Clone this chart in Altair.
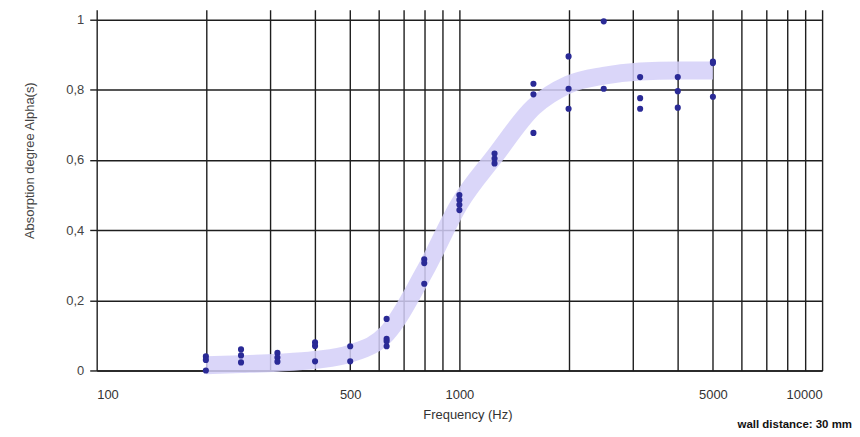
import altair as alt
import pandas as pd

# Measured points (third-octave frequencies)
pt_freq = [200, 200, 200,
           250, 250, 250,
           315, 315, 315,
           400, 400, 400,
           500, 500,
           630, 630, 630, 630,
           800, 800, 800,
           1000, 1000, 1000, 1000,
           1250, 1250, 1250,
           1600, 1600, 1600,
           2000, 2000, 2000,
           2500, 2500,
           3150, 3150, 3150,
           4000, 4000, 4000,
           5000, 5000, 5000]
pt_alpha = [0.04, 0.03, 0.0,
            0.06, 0.043, 0.023,
            0.05, 0.037, 0.025,
            0.08, 0.07, 0.026,
            0.069, 0.026,
            0.147, 0.09, 0.083, 0.069,
            0.317, 0.306, 0.247,
            0.5, 0.486, 0.472, 0.457,
            0.618, 0.604, 0.59,
            0.817, 0.787, 0.677,
            0.895, 0.803, 0.746,
            0.995, 0.803,
            0.836, 0.776, 0.746,
            0.836, 0.796, 0.749,
            0.88, 0.876, 0.78]

# Trend band (centre line)
band_freq = [200, 250, 315, 400, 500, 630, 800, 1000, 1250, 1600, 2000, 2500, 3150, 4000, 5000]
band_alpha = [0.015, 0.018, 0.022, 0.03, 0.048, 0.105, 0.28, 0.475, 0.61, 0.75, 0.815, 0.84, 0.852, 0.855, 0.855]

grid_freq = [100, 200, 300, 400, 500, 600, 700, 800, 900,
             1000, 2000, 3000, 4000, 5000, 6000, 7000, 8000, 9000, 10000]
label_freq = [100, 500, 1000, 5000, 10000]
y_ticks = [0, 0.2, 0.4, 0.6, 0.8, 1]

pts = pd.DataFrame({"f": pt_freq, "a": pt_alpha})
band = pd.DataFrame({"f": band_freq, "a": band_alpha})
note = pd.DataFrame({"t": ["wall distance: 30 mm"]})

xscale = alt.Scale(type="log", domain=[100, 10000])
yscale = alt.Scale(domain=[0, 1.028], nice=False)

label_test = "indexof([" + ",".join(str(v) for v in label_freq) + "], datum.value) >= 0 ? datum.value : ''"

xaxis = alt.Axis(values=grid_freq, labelExpr=label_test, ticks=False, labelPadding=18,
                 grid=True, gridColor="#1e1e1e", gridWidth=1.4, gridOpacity=1,
                 domainColor="#1e1e1e", domainWidth=1.4,
                 labelFont="Liberation Sans", labelFontSize=13, labelColor="#333",
                 title="Frequency (Hz)", titleFont="Liberation Sans", titleFontSize=13,
                 titleFontWeight="normal", titleColor="#333", titlePadding=7, titleX=372)
yaxis = alt.Axis(values=y_ticks, labelExpr="replace(format(datum.value, '~g'), '.', ',')",
                 tickSize=7, tickColor="#1e1e1e", tickWidth=1.4, labelPadding=6,
                 grid=True, gridColor="#1e1e1e", gridWidth=1.4, gridOpacity=1,
                 domain=False,
                 labelFont="Liberation Sans", labelFontSize=13, labelColor="#444",
                 title="Absorption degree Alpha(s)", titleFont="Liberation Sans", titleFontSize=13,
                 titleFontWeight="normal", titleColor="#444", titleX=-60, titleY=151)

band_layer = alt.Chart(band).mark_line(
    interpolate="monotone", strokeWidth=18, color="#d4cff8", opacity=0.85, strokeCap="butt"
).encode(
    x=alt.X("f:Q", scale=xscale, axis=xaxis),
    y=alt.Y("a:Q", scale=yscale, axis=yaxis),
)

pt_layer = alt.Chart(pts).mark_point(
    filled=True, size=38, color="#2a2a96", opacity=1, shape="circle"
).encode(
    x=alt.X("f:Q", scale=xscale),
    y=alt.Y("a:Q", scale=yscale),
)

note_layer = alt.Chart(note).mark_text(
    align="right", baseline="middle", font="Liberation Sans", fontSize=11.5, fontWeight="bold",
    color="#111"
).encode(
    x=alt.value(758), y=alt.value(417), text="t:N"
)

chart = alt.layer(band_layer, pt_layer, note_layer).properties(
    width=728, height=362,
    autosize=alt.AutoSizeParams(type="none"),
    padding={"left": 89, "top": 1, "right": 30, "bottom": 62},
).configure_view(stroke=None)

chart.save("out.html", embed_options={"renderer": "svg", "actions": False})
